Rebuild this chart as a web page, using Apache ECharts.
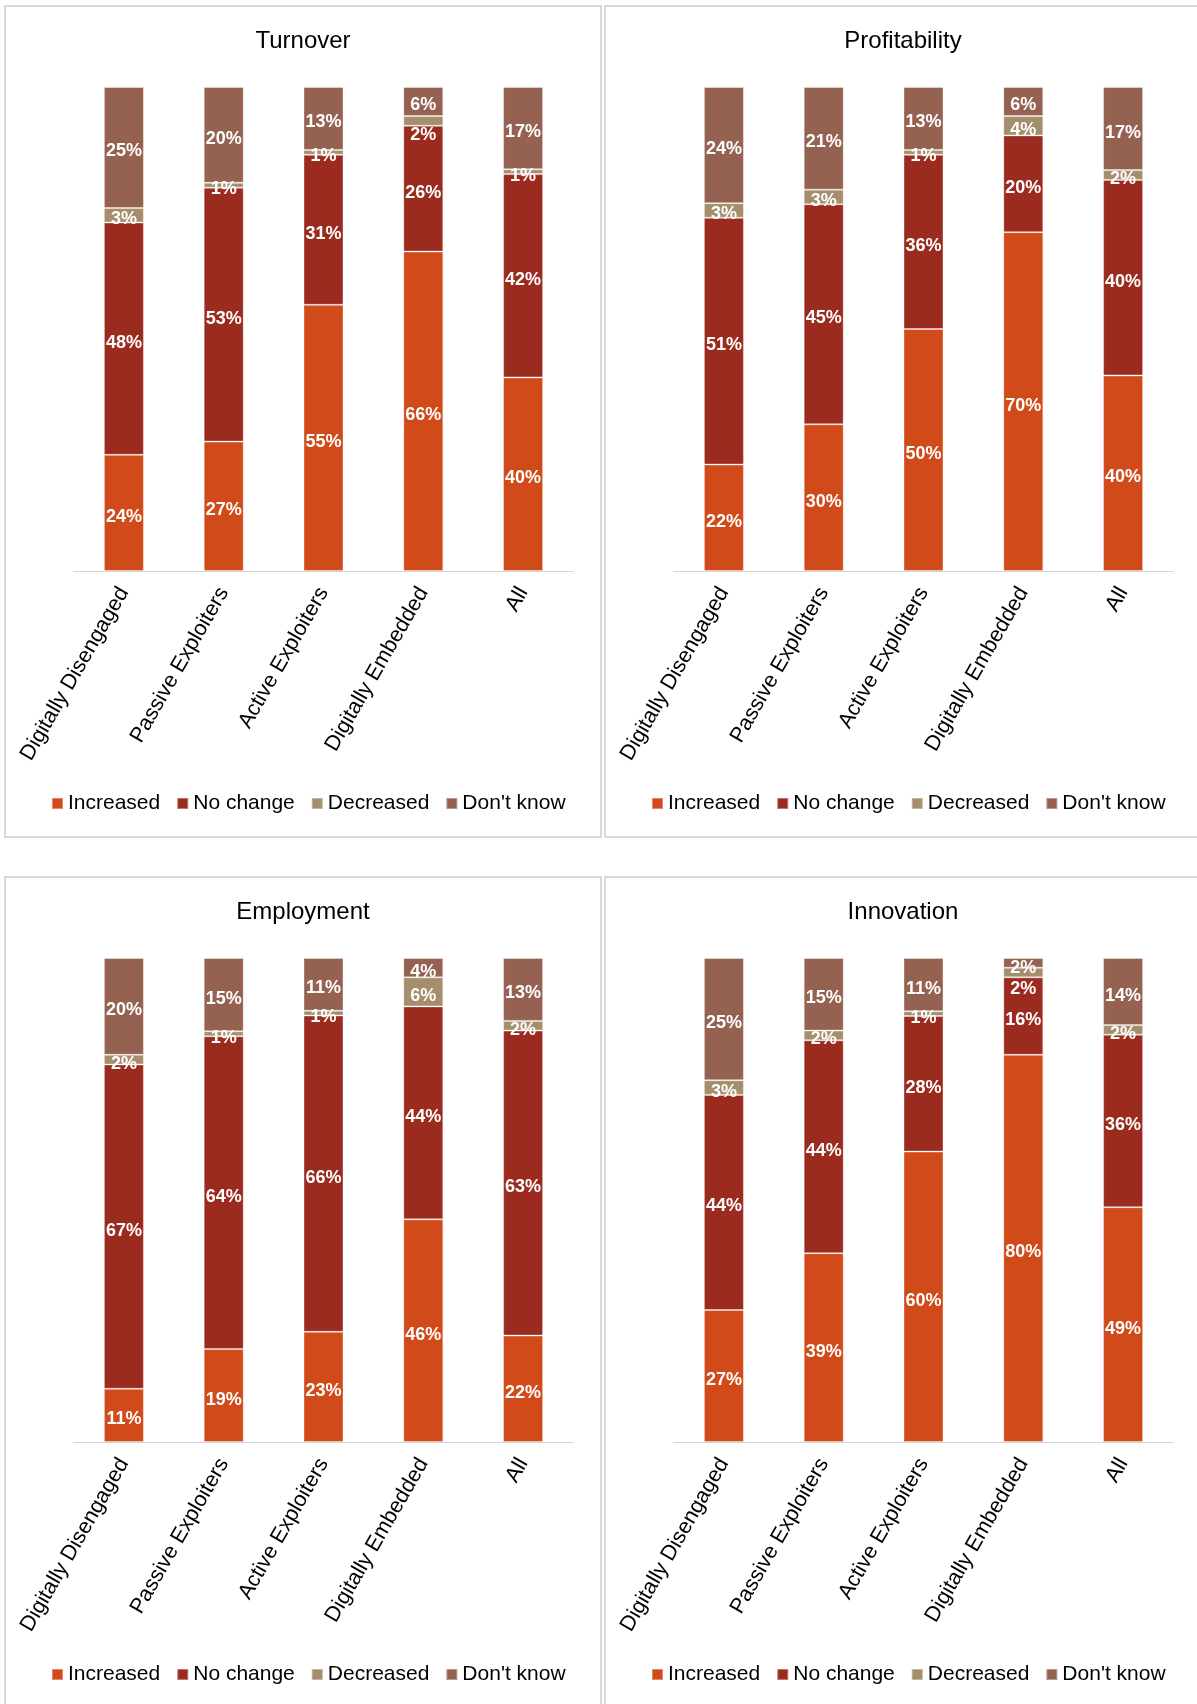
<!DOCTYPE html>
<html>
<head>
<meta charset="utf-8">
<title>Change by digital group</title>
<script src="https://cdn.jsdelivr.net/npm/echarts@6/dist/echarts.min.js"></script>
<style>
  body { margin: 0; background: #fff; width: 1197px; height: 1704px; overflow: hidden; position: relative; }
  .panel { position: absolute; width: 598px; height: 833px; }
  .frame { position: absolute; width: 598px; height: 833px; box-sizing: border-box; border: 2px solid #d9d9d9; pointer-events: none; }
</style>
</head>
<body>
<div class="panel" id="turnover" style="left:4px;top:5px"></div>
<div class="panel" id="profitability" style="left:604px;top:5px"></div>
<div class="panel" id="employment" style="left:4px;top:876px"></div>
<div class="panel" id="innovation" style="left:604px;top:876px"></div>
<div class="frame" style="left:4px;top:5px"></div>
<div class="frame" style="left:604px;top:5px"></div>
<div class="frame" style="left:4px;top:876px"></div>
<div class="frame" style="left:604px;top:876px"></div>
<script>
const categories = ['Digitally Disengaged', 'Passive Exploiters', 'Active Exploiters', 'Digitally Embedded', 'All'];
const seriesNames = ['Increased', 'No change', 'Decreased', "Don't know"];
const colors = ['#D14A19', '#9B2B1F', '#A58E6B', '#956252'];

// rows: Increased, No change, Decreased, Don't know
const turnover = [
  [24, 27, 55, 66, 40],
  [48, 53, 31, 26, 42],
  [3, 1, 1, 2, 1],
  [25, 20, 13, 6, 17]
];
const profitability = [
  [22, 30, 50, 70, 40],
  [51, 45, 36, 20, 40],
  [3, 3, 1, 4, 2],
  [24, 21, 13, 6, 17]
];
const employment = [
  [11, 19, 23, 46, 22],
  [67, 64, 66, 44, 63],
  [2, 1, 1, 6, 2],
  [20, 15, 11, 4, 13]
];
const innovation = [
  [27, 39, 60, 80, 49],
  [44, 44, 28, 16, 36],
  [3, 2, 1, 2, 2],
  [25, 15, 11, 2, 14]
];

// labels moved down a little where segments are too thin ("series,category": px)
const labelNudge = {
  turnover: { '2,3': 10 },
  innovation: { '2,3': 13, '3,3': 1 }
};

const FONT = '"Liberation Sans", Arial, sans-serif';

function makeChart(id, title, values) {
  let chart = echarts.init(document.getElementById(id), null, { renderer: 'canvas' });
  let nudge = labelNudge[id] || {};
  // 100% stacked: each bar scaled to its own total
  let totals = categories.map((c, j) => values.reduce((s, row) => s + row[j], 0));

  let series = seriesNames.map((name, i) => ({
    name: name,
    type: 'bar',
    stack: 'total',
    barWidth: 40,
    itemStyle: { color: colors[i], borderColor: 'rgba(255,255,255,0.35)', borderWidth: 1 },
    label: {
      show: true,
      position: 'inside',
      offset: [0, 4],
      color: '#fff',
      fontFamily: FONT,
      fontWeight: 'bold',
      fontSize: 18,
      formatter: p => values[p.seriesIndex][p.dataIndex] + '%'
    },
    data: values[i].map((v, j) => {
      let item = { value: v / totals[j] * 100 };
      let off = nudge[i + ',' + j];
      if (off) item.label = { offset: [0, 4 + off] };
      return item;
    })
  }));

  chart.setOption({
    animation: false,
    title: {
      text: title,
      left: 'center',
      top: 19,
      textStyle: { fontFamily: FONT, fontSize: 24, fontWeight: 'normal', color: '#000' }
    },
    legend: {
      data: seriesNames,
      left: 42,
      top: 783,
      icon: 'rect',
      itemWidth: 11,
      itemHeight: 11,
      itemGap: 16,
      textStyle: { fontFamily: FONT, fontSize: 21, color: '#000' }
    },
    grid: { left: 70, top: 82, width: 499, height: 484, containLabel: false },
    xAxis: {
      type: 'category',
      data: categories,
      axisLine: { lineStyle: { color: '#d4d4d4', width: 1 } },
      axisTick: { show: false },
      axisLabel: { rotate: 60, margin: 18, interval: 0, color: '#000', fontFamily: FONT, fontSize: 21.5 }
    },
    yAxis: { type: 'value', min: 0, max: 100, show: false },
    series: series
  });
}

makeChart('turnover', 'Turnover', turnover);
makeChart('profitability', 'Profitability', profitability);
makeChart('employment', 'Employment', employment);
makeChart('innovation', 'Innovation', innovation);
</script>
</body>
</html>
